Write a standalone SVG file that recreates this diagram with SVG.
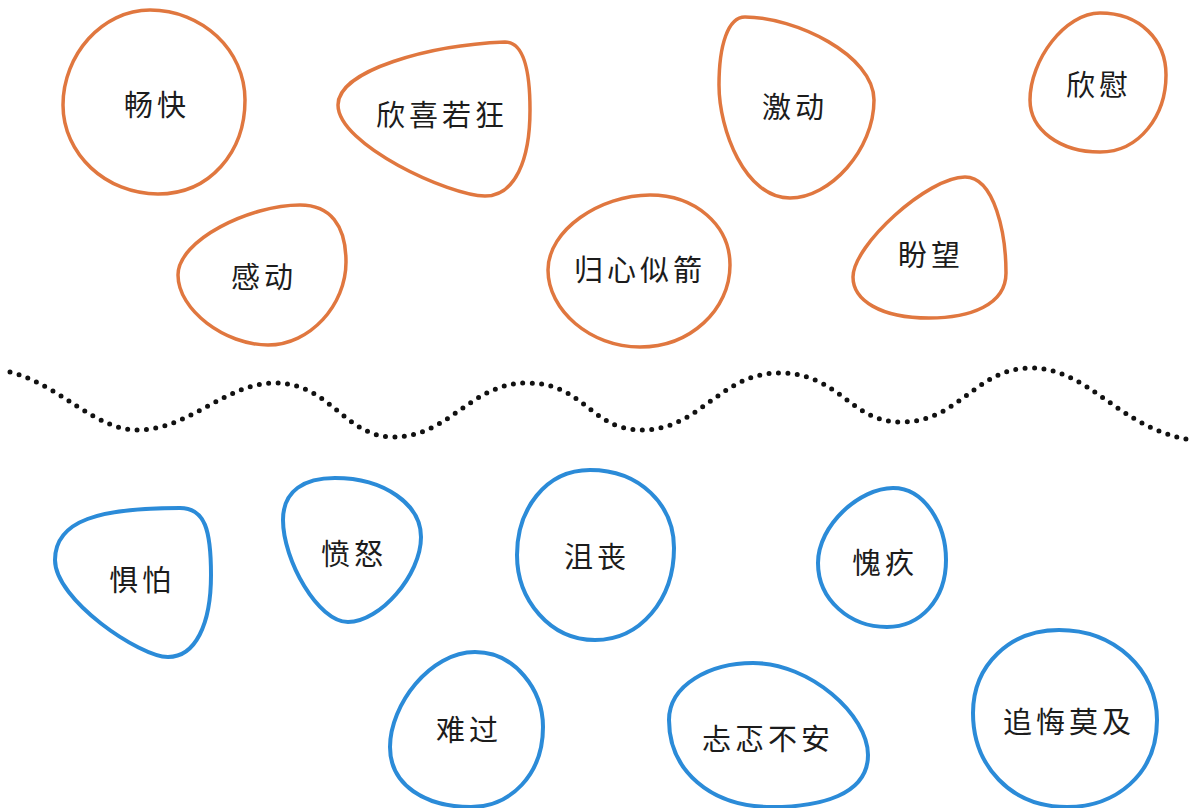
<svg xmlns="http://www.w3.org/2000/svg" width="1198" height="808" viewBox="0 0 1198 808">
<style>
.bg{fill:#ffffff}
.warm{fill:#ffffff;stroke:#e0773f;stroke-width:3.5;stroke-linejoin:round}
.cool{fill:#ffffff;stroke:#2b8bd8;stroke-width:4;stroke-linejoin:round}
.lbl{font-family:"Noto Sans CJK SC","Noto Sans CJK TC",sans-serif;font-size:29px;fill:#1c1c1c;text-anchor:middle;dominant-baseline:central;letter-spacing:4px}
.wave{fill:none;stroke:#111111;stroke-width:5;stroke-linecap:round;stroke-dasharray:0 9.4}
</style>
<rect class="bg" x="0" y="0" width="1198" height="808"/>
<g id="connectors">
<path class="wave" d="M10,372 C60,385 95,430 137,430 C190,430 225,383 275,383 C330,383 345,437 393,437 C450,437 470,383 527,383 C585,383 590,430 642,430 C700,430 720,373 779,373 C840,373 850,422 901,422 C960,422 975,368 1031,368 C1090,368 1120,430 1192,440"/>
</g>
<g id="n-changkuai">
<path class="warm" d="M150,10 C202,10 245,50 245,100 C245,152 210,194 158,194 C106,194 63,154 63,105 C63,55 102,10 150,10 Z"/>
<text class="lbl" x="157" y="103">畅快</text>
</g>
<g id="n-xinxiruokuang">
<path class="warm" d="M505,42 C518,42 530,55 530,110 C530,160 515,196 485,196 C450,196 338,145 338,105 C338,70 430,45 505,42 Z"/>
<text class="lbl" x="442" y="113">欣喜若狂</text>
</g>
<g id="n-jidong">
<path class="warm" d="M745,17 C795,17 874,55 874,100 C874,150 830,198 790,198 C745,198 719,130 719,85 C719,45 728,17 745,17 Z"/>
<text class="lbl" x="795" y="105">激动</text>
</g>
<g id="n-xinwei">
<path class="warm" d="M1100,13 C1140,13 1166,40 1166,75 C1166,115 1140,152 1100,152 C1060,152 1030,130 1030,100 C1030,60 1065,13 1100,13 Z"/>
<text class="lbl" x="1099" y="83">欣慰</text>
</g>
<g id="n-gandong">
<path class="warm" d="M300,205 C330,205 346,225 346,262 C346,305 310,345 268,345 C225,345 178,310 178,275 C178,240 250,205 300,205 Z"/>
<text class="lbl" x="264" y="275">感动</text>
</g>
<g id="n-guixinsijian">
<path class="warm" d="M650,195 C695,195 730,225 730,265 C730,310 690,347 640,347 C590,347 548,310 548,270 C548,230 600,195 650,195 Z"/>
<text class="lbl" x="640" y="268">归心似箭</text>
</g>
<g id="n-panwang">
<path class="warm" d="M965,177 C995,177 1006,235 1006,273 C1006,305 970,318 929,318 C880,318 853,300 853,277 C853,245 928,177 965,177 Z"/>
<text class="lbl" x="931" y="253">盼望</text>
</g>
<g id="n-jupa">
<path class="cool" d="M180,508 C205,508 211,530 211,575 C211,625 195,657 168,657 C140,657 55,600 55,560 C55,520 100,508 180,508 Z"/>
<text class="lbl" x="142" y="578">惧怕</text>
</g>
<g id="n-fennu">
<path class="cool" d="M335,478 C385,478 421,505 421,537 C421,575 380,622 348,622 C318,622 283,560 283,520 C283,490 305,478 335,478 Z"/>
<text class="lbl" x="354" y="552">愤怒</text>
</g>
<g id="n-jusang">
<path class="cool" d="M590,470 C640,470 674,505 674,548 C674,600 640,640 595,640 C550,640 517,600 517,555 C517,510 545,470 590,470 Z"/>
<text class="lbl" x="597" y="555">沮丧</text>
</g>
<g id="n-kuijiu">
<path class="cool" d="M893,488 C925,488 946,525 946,560 C946,600 920,627 887,627 C850,627 818,600 818,563 C818,525 860,488 893,488 Z"/>
<text class="lbl" x="885" y="561">愧疚</text>
</g>
<g id="n-nanguo">
<path class="cool" d="M475,652 C515,652 543,690 543,727 C543,775 510,807 471,807 C425,807 390,785 390,747 C390,705 430,652 475,652 Z"/>
<text class="lbl" x="469" y="728">难过</text>
</g>
<g id="n-tantebuan">
<path class="cool" d="M753,663 C810,663 868,715 868,755 C868,795 820,807 772,807 C710,807 669,770 669,720 C669,685 710,663 753,663 Z"/>
<text class="lbl" x="768" y="737">忐忑不安</text>
</g>
<g id="n-zhuihuimoji">
<path class="cool" d="M1059,630 C1115,630 1157,670 1157,720 C1157,775 1115,807 1067,807 C1010,807 973,765 973,713 C973,665 1010,630 1059,630 Z"/>
<text class="lbl" x="1069" y="720">追悔莫及</text>
</g>
</svg>
